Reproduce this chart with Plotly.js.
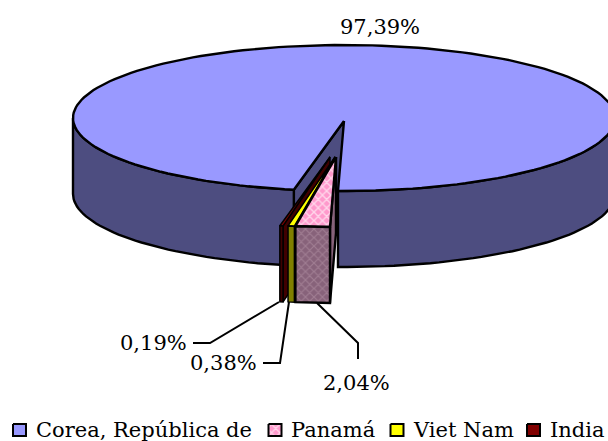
<!DOCTYPE html>
<html><head><meta charset="utf-8">
<script src="https://cdn.plot.ly/plotly-3.0.1.min.js"></script>
<style>html,body{margin:0;padding:0;background:#fff}</style></head>
<body><div id="chart" style="width:608px;height:441px"></div>
<script>
const categories = ['Corea, República de','Panamá','Viet Nam','India'];
const shares = [97.39,2.04,0.38,0.19];
const shareLabels = ['97,39%','2,04%','0,38%','0,19%'];
const topColors = ['#9999ff','#ff99cc','#ffff00','#800000'];
const wallColors = ['#4d4d80','#87627a','#808000','#400000'];

const cx=344, cy=118, rx=271, ry=73, depth=76, apexDy=3, startDeg=1.27;
const explode = {1:[-8,36],2:[-9,36],3:[-14,36]};
const sliceStroke = {1:2.4,2:1.5,3:1.5};
const FONT='"DejaVu Serif", serif';
const rad=d=>d*Math.PI/180;
const arc=(a,b,dx,dy)=>{const n=Math.max(2,Math.ceil(Math.abs(b-a)/2)),o=[];
  for(let i=0;i<=n;i++){const t=rad(a+(b-a)*i/n);o.push([cx+dx-rx*Math.sin(t),cy+dy+ry*Math.cos(t)]);}return o;};
const traces=[];
function poly(pts,fill,name,pattern,lw){
  const p=pts.concat([pts[0]]);
  const t={type:'scatter',mode:'lines',x:p.map(q=>q[0]),y:p.map(q=>q[1]),fill:'toself',fillcolor:fill,
    line:{color:'#000',width:lw===undefined?2.4:lw,shape:'linear'},hoverinfo:'skip',showlegend:false,name:name};
  if(pattern)t.fillpattern=pattern;
  traces.push(t);
}
const bounds=[];let acc=startDeg;
[1,2,3,0].forEach(i=>{const s=acc;acc+=shares[i]*3.6;bounds[i]=[s,acc];});

const k=bounds[0], apex=[cx,cy+apexDy];
const kl=arc(k[0],k[0],0,0)[0];
poly([apex,kl,[kl[0],kl[1]+depth],[apex[0],apex[1]+depth]],wallColors[0],categories[0]);
function wall(a,b,color,dx,dy,name,pat,lw){
  const top=arc(a,b,dx,dy), bot=top.map(p=>[p[0],p[1]+depth]).reverse();
  poly(top.concat(bot),color,name,pat,lw);
}
wall(k[0],90,wallColors[0],0,0,categories[0]);
wall(270,startDeg+360,wallColors[0],0,0,categories[0]);
poly([apex].concat(arc(k[0],startDeg+360,0,0)),topColors[0],categories[0]);

const panTop={shape:'x',bgcolor:'#ff99cc',fgcolor:'#ffd6ea',size:6,solidity:0.4};
const panWall={shape:'x',bgcolor:'#87627a',fgcolor:'#a07d92',size:6,solidity:0.35};
[3,2,1].forEach(i=>{
  const [a,b]=bounds[i],[dx,dy]=explode[i],lw=sliceStroke[i];
  const ap=[cx+dx,cy+apexDy+dy], o=arc(a,a,dx,dy)[0];
  poly([o,ap,[ap[0],ap[1]+depth],[o[0],o[1]+depth]],wallColors[i],categories[i],null,lw);
  poly([ap].concat(arc(a,b,dx,dy)),topColors[i],categories[i],i===1?panTop:null,lw);
  wall(a,b,wallColors[i],dx,dy,categories[i],i===1?panWall:null,lw);
});

const leaders=[
 [[193,343],[210,343],[279,302]],
 [[263,363],[280,363],[289,302]],
 [[317,303],[358,343],[358,359]]];
leaders.forEach(l=>traces.push({type:'scatter',mode:'lines',x:l.map(p=>p[0]),y:l.map(p=>p[1]),
  line:{color:'#000',width:2},hoverinfo:'skip',showlegend:false}));

const keyX=[13,268.5,390.5,527], textX=[35,290,412,549], keyY=430, keyS=6;
categories.forEach((c,i)=>{
  poly([[keyX[i],keyY-keyS],[keyX[i]+2*keyS+1,keyY-keyS],[keyX[i]+2*keyS+1,keyY+keyS],[keyX[i],keyY+keyS]],
    topColors[i],c,i===1?panTop:null,2);
});
const ann=(text,x,y,xanchor)=>({text,x,y,xref:'x',yref:'y',xanchor,yanchor:'middle',showarrow:false,
  borderpad:0,font:{family:FONT,size:21,color:'#000'}});
const annotations=[
 ann(shareLabels[0],380,27,'center'),
 ann(shareLabels[3],188,343,'right'),
 ann(shareLabels[2],258,363,'right'),
 ann(shareLabels[1],356,383,'center'),
].concat(categories.map((c,i)=>ann(c,textX[i],430,'left')));

Plotly.newPlot('chart',traces,{
  width:608,height:441,margin:{l:0,r:0,t:0,b:0},paper_bgcolor:'#fff',plot_bgcolor:'#fff',showlegend:false,
  xaxis:{range:[0,608],visible:false,fixedrange:true},
  yaxis:{range:[441,0],visible:false,fixedrange:true},
  annotations
},{displayModeBar:false,staticPlot:true});
</script></body></html>
